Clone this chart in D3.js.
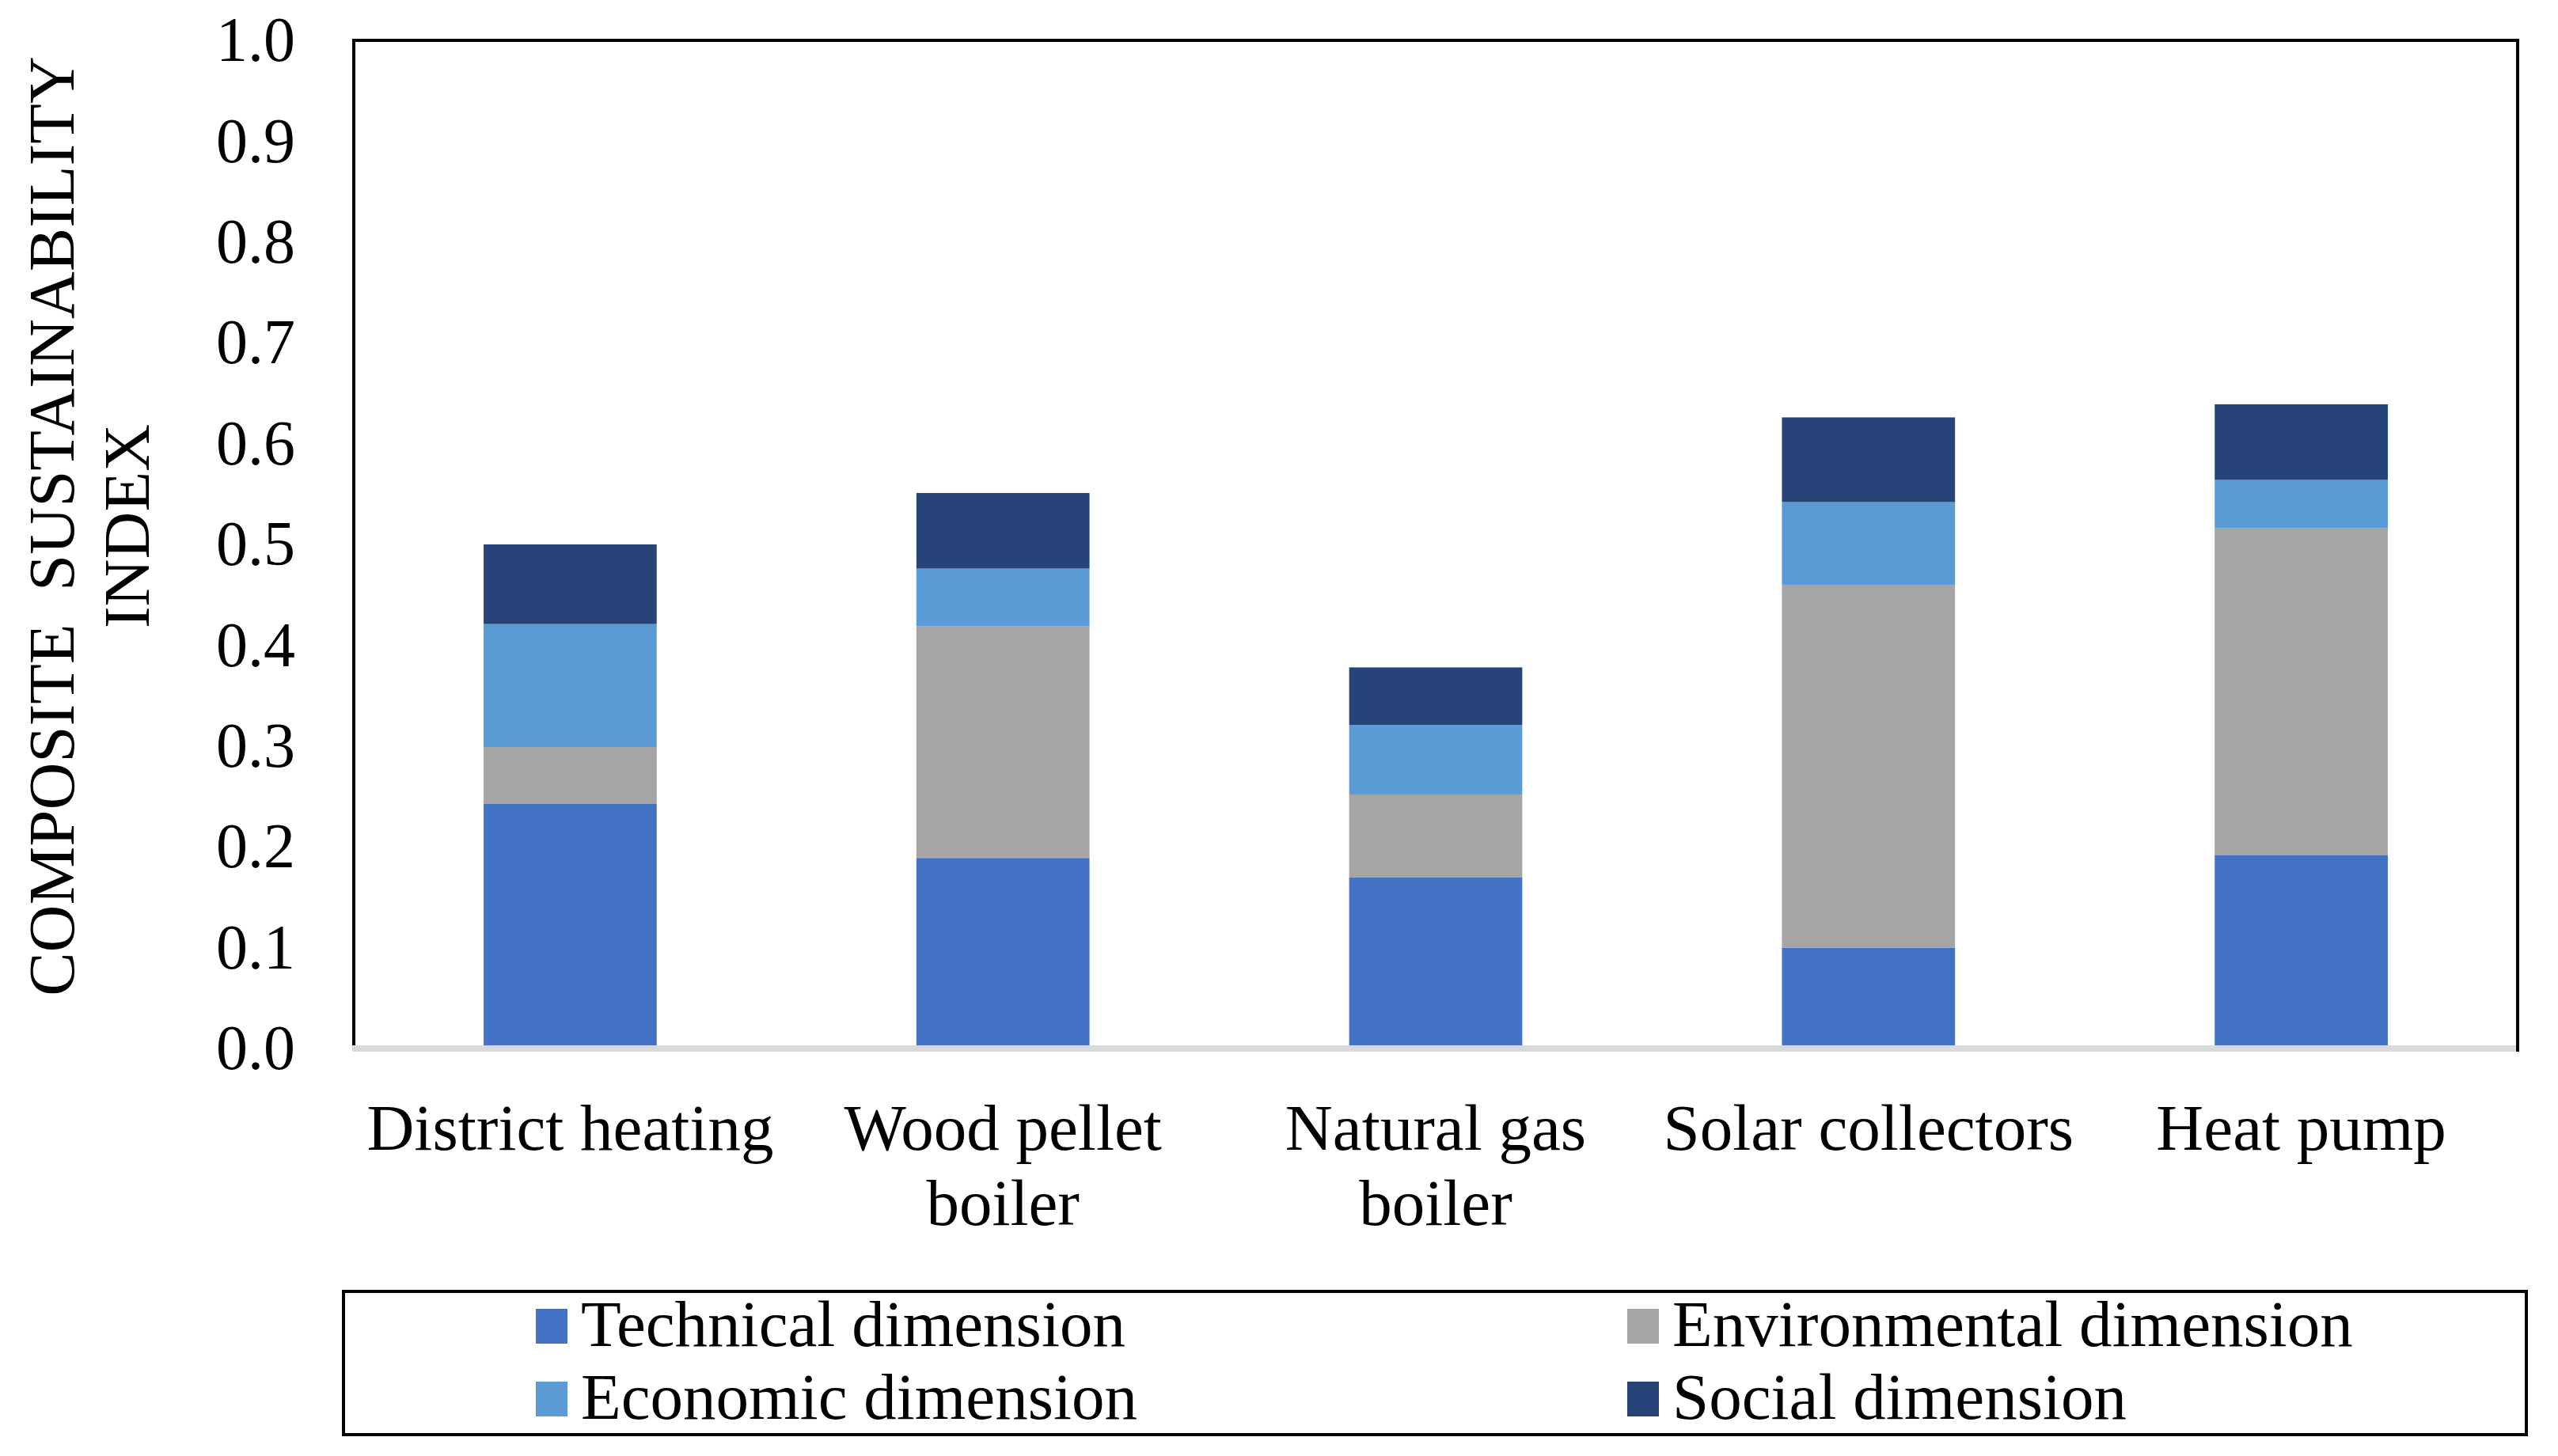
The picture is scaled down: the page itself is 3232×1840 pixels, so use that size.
<!doctype html>
<html>
<head>
<meta charset="utf-8">
<title>Composite sustainability index</title>
<script src="https://cdnjs.cloudflare.com/ajax/libs/d3/7.8.5/d3.min.js"></script>
<style>
body { margin: 0; background: #fff; }
text { font-family: "Liberation Serif", "Times New Roman", serif; fill: #000; }
</style>
</head>
<body>
<div id="chart"></div>
<script>
// data
var categories = ["District heating", "Wood pellet boiler", "Natural gas boiler", "Solar collectors", "Heat pump"];
var technical     = [0.243, 0.189, 0.170, 0.100, 0.192];
var environmental = [0.056, 0.230, 0.082, 0.360, 0.324];
var economic      = [0.122, 0.057, 0.069, 0.082, 0.048];
var social        = [0.079, 0.075, 0.057, 0.084, 0.075];
var seriesNames = ["Technical dimension", "Environmental dimension", "Economic dimension", "Social dimension"];
var yTicks = [0, 0.1, 0.2, 0.3, 0.4, 0.5, 0.6, 0.7, 0.8, 0.9, 1.0];
var yTitle = ["COMPOSITE  SUSTAINABILITY", "INDEX"];

var colors = ["#4472C4", "#A5A5A5", "#5B9BD5", "#264478"];

var W = 3232, H = 1840;
var plot = {left: 447, right: 3181, top: 51, bottom: 1325};

var svg = d3.select("#chart").append("svg")
    .attr("width", W)
    .attr("height", H);

svg.append("rect").attr("width", W).attr("height", H).attr("fill", "#fff");

// build table for the stack
var keys = ["technical", "environmental", "economic", "social"];
var table = categories.map(function(c, i) {
  return {cat: c, technical: technical[i], environmental: environmental[i],
          economic: economic[i], social: social[i]};
});
var stacked = d3.stack().keys(keys)(table);

var x = d3.scaleBand()
    .domain(categories)
    .range([plot.left, plot.right])
    .paddingInner(0.6)
    .paddingOuter(0.3);

var y = d3.scaleLinear()
    .domain([0, 1])
    .range([plot.bottom, plot.top]);

// plot frame (left, top, right)
svg.append("path")
    .attr("d", "M" + plot.left + "," + (plot.bottom - 4) +
               "V" + plot.top + "H" + plot.right + "V" + (plot.bottom + 4))
    .attr("fill", "none")
    .attr("stroke", "#000")
    .attr("stroke-width", 4);

// bars
svg.append("g").selectAll("g")
  .data(stacked)
  .enter().append("g")
    .attr("fill", function(d, i) { return colors[i]; })
  .selectAll("rect")
  .data(function(d) { return d; })
  .enter().append("rect")
    .attr("x", function(d) { return x(d.data.cat); })
    .attr("y", function(d) { return y(d[1]); })
    .attr("width", x.bandwidth())
    .attr("height", function(d) { return y(d[0]) - y(d[1]); });

// horizontal axis line
svg.append("line")
    .attr("x1", plot.left - 2)
    .attr("x2", plot.right - 2)
    .attr("y1", y(0))
    .attr("y2", y(0))
    .attr("stroke", "#D9D9D9")
    .attr("stroke-width", 8);

// y axis labels
var yAxis = svg.append("g")
    .attr("transform", "translate(" + plot.left + ",0)")
    .call(d3.axisLeft(y).tickValues(yTicks).tickFormat(d3.format(".1f")).tickSize(0).tickPadding(74));
yAxis.select(".domain").remove();
yAxis.selectAll("text")
    .style("font-family", "Liberation Serif, serif")
    .style("font-size", "80px")
    .attr("fill", "#000")
    .attr("dy", "0.32em");

// x axis labels
var xAxis = svg.append("g")
    .attr("transform", "translate(0," + plot.bottom + ")")
    .call(d3.axisBottom(x).tickSize(0).tickPadding(0));
xAxis.select(".domain").remove();
xAxis.selectAll("text")
    .style("font-family", "Liberation Serif, serif")
    .style("font-size", "83px")
    .attr("fill", "#000")
    .call(wrap, x.step());

function wrap(sel, width) {
  sel.each(function() {
    var t = d3.select(this),
        words = t.text().split(/\s+/).reverse(),
        word, line = [], lineNo = 0,
        tspan = t.text(null).append("tspan").attr("x", 0).attr("y", 128);
    while ((word = words.pop())) {
      line.push(word);
      tspan.text(line.join(" "));
      if (tspan.node().getComputedTextLength() > width && line.length > 1) {
        line.pop();
        tspan.text(line.join(" "));
        line = [word];
        lineNo++;
        tspan = t.append("tspan").attr("x", 0).attr("y", 128 + lineNo * 95).text(word);
      }
    }
    t.attr("dy", null);
  });
}

// y title, rotated
var title = svg.append("text")
    .attr("transform", "translate(93,665) rotate(-90)")
    .attr("text-anchor", "middle")
    .style("font-size", "83px")
    .style("white-space", "pre");
yTitle.forEach(function(s, i) {
  title.append("tspan").attr("x", 0).attr("y", i * 95).text(s);
});

// legend
var legend = svg.append("g");
legend.append("rect")
    .attr("x", 434)
    .attr("y", 1632)
    .attr("width", 3192 - 434)
    .attr("height", 1813 - 1632)
    .attr("fill", "none")
    .attr("stroke", "#000")
    .attr("stroke-width", 4);

var legX = [677, 2056], legY = [1654, 1746];
var items = legend.selectAll("g.item")
  .data(seriesNames)
  .enter().append("g")
    .attr("class", "item")
    .attr("transform", function(d, i) {
      return "translate(" + legX[i % 2] + "," + legY[Math.floor(i / 2)] + ")";
    });
items.append("rect")
    .attr("width", 40)
    .attr("height", 44)
    .attr("fill", function(d, i) { return colors[i]; });
items.append("text")
    .attr("x", 57)
    .attr("y", 47)
    .style("font-size", "83px")
    .text(function(d) { return d; });
</script>
</body>
</html>
